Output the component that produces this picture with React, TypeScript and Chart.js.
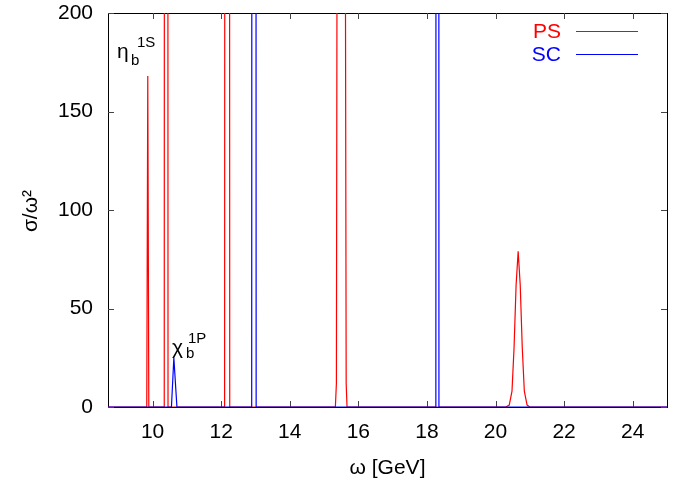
import React, { useEffect, useRef } from "react";
import { Chart, registerables } from "chart.js";

Chart.register(...registerables);

// PS (pseudoscalar) channel: omega [GeV] and sigma/omega^2
const psX = [8.7, 9.83, 9.86, 9.89, 10.34, 10.395, 10.45, 12.1, 12.175, 12.25, 15.33, 15.36, 15.38, 15.5, 15.62, 15.645, 15.67, 20.3, 20.4, 20.48, 20.54, 20.6, 20.66, 20.72, 20.78, 20.84, 20.92, 21.0, 25];
const psY = [0, 0, 168, 0, 0, 4000, 0, 0, 4000, 0, 0, 12, 250, 3000, 250, 12, 0, 0, 1, 8, 30, 62, 79, 62, 30, 8, 1, 0, 0];

// SC (scalar) channel
const scX = [8.7, 10.55, 10.62, 10.71, 12.89, 12.955, 13.02, 18.26, 18.305, 18.35, 25];
const scY = [0, 0, 25, 0, 0, 4000, 0, 0, 4000, 0, 0];

const xTickValues = [10, 12, 14, 16, 18, 20, 22, 24];
const yTickValues = [0, 50, 100, 150, 200];
const legendLabels = ["PS", "SC"];
const seriesColors = ["#ff0000", "#0000ff"];

const FONT = "'Liberation Sans', Arial, Helvetica, sans-serif";

export default function App() {
  const ref = useRef<HTMLCanvasElement | null>(null);

  useEffect(() => {
    if (!ref.current) return;
    const overlay = {
      id: "overlay",
      beforeDatasetsDraw(chart: any) {
        const ctx = chart.ctx;
        const a = chart.chartArea;
        const xs = chart.scales.x;
        const ys = chart.scales.y;
        ctx.save();
        ctx.strokeStyle = "#000";
        ctx.lineWidth = 1;
        ctx.strokeRect(Math.round(a.left) + 0.5, Math.round(a.top) + 0.5, Math.round(a.right - a.left), Math.round(a.bottom - a.top));
        ctx.strokeStyle = "#444";
        ctx.beginPath();
        const tl = 6;
        xTickValues.forEach((v) => {
          const px = Math.round(xs.getPixelForValue(v)) + 0.5;
          ctx.moveTo(px, a.bottom);
          ctx.lineTo(px, a.bottom - tl);
          ctx.moveTo(px, a.top);
          ctx.lineTo(px, a.top + tl);
        });
        yTickValues.forEach((v) => {
          const py = Math.round(ys.getPixelForValue(v)) + 0.5;
          ctx.moveTo(a.left, py);
          ctx.lineTo(a.left + tl, py);
          ctx.moveTo(a.right, py);
          ctx.lineTo(a.right - tl, py);
        });
        ctx.stroke();
        ctx.restore();
      },
      afterDraw(chart: any) {
        const ctx = chart.ctx;
        const a = chart.chartArea;
        ctx.save();
        ctx.fillStyle = "#000";
        // axis titles
        ctx.font = `21px ${FONT}`;
        ctx.textAlign = "center";
        ctx.textBaseline = "middle";
        ctx.fillText("ω [GeV]", (a.left + a.right) / 2, 468);
        ctx.save();
        ctx.translate(31, 211);
        ctx.rotate(-Math.PI / 2);
        ctx.fillText("σ/ω²", 0, 0);
        ctx.restore();

        // annotations
        ctx.textAlign = "left";
        ctx.textBaseline = "alphabetic";
        ctx.font = `21px ${FONT}`;
        ctx.fillText("η", 117, 58);
        ctx.font = `15px ${FONT}`;
        ctx.fillText("b", 131, 65);
        ctx.fillText("1S", 137, 47);

        ctx.font = `21px ${FONT}`;
        ctx.fillText("χ", 172, 354);
        ctx.font = `15px ${FONT}`;
        ctx.fillText("b", 186, 358);
        ctx.fillText("1P", 188, 343);

        // legend
        ctx.font = `21px ${FONT}`;
        ctx.textAlign = "right";
        ctx.textBaseline = "middle";
        legendLabels.forEach((lab, i) => {
          const y = 31 + i * 23;
          ctx.fillStyle = seriesColors[i];
          ctx.fillText(lab, 561, y + 1);
          ctx.strokeStyle = seriesColors[i];
          ctx.lineWidth = 1;
          ctx.beginPath();
          ctx.moveTo(576, y + 0.5);
          ctx.lineTo(638, y + 0.5);
          ctx.stroke();
        });
        ctx.restore();
      },
    };

    const chart = new Chart(ref.current, {
      type: "scatter",
      data: {
        datasets: [
          {
            label: legendLabels[0],
            data: psX.map((x, i) => ({ x, y: psY[i] })),
            showLine: true,
            borderColor: seriesColors[0],
            borderWidth: 1.2,
            pointRadius: 0,
            order: 1,
          },
          {
            label: legendLabels[1],
            data: scX.map((x, i) => ({ x, y: scY[i] })),
            showLine: true,
            borderColor: seriesColors[1],
            borderWidth: 1.2,
            pointRadius: 0,
            order: 0,
          },
        ],
      },
      options: {
        animation: false,
        responsive: false,
        events: [],
        layout: { padding: { top: 13, right: 13, left: 0, bottom: 0 } },
        plugins: { legend: { display: false }, tooltip: { enabled: false } },
        scales: {
          x: {
            type: "linear",
            min: 8.7,
            max: 25,
            grid: { display: false, drawTicks: false },
            border: { display: false },
            afterFit: (s: any) => {
              s.height = 76;
              s.paddingLeft = 0;
              s.paddingRight = 0;
            },
            afterBuildTicks: (s: any) => {
              s.ticks = xTickValues.map((v) => ({ value: v }));
            },
            ticks: {
              padding: 13,
              color: "#000",
              font: { family: FONT, size: 21 },
              maxRotation: 0,
            },
          },
          y: {
            type: "linear",
            min: 0,
            max: 200,
            grid: { display: false, drawTicks: false },
            border: { display: false },
            afterFit: (s: any) => {
              s.width = 108;
              s.paddingTop = 0;
              s.paddingBottom = 0;
            },
            afterBuildTicks: (s: any) => {
              s.ticks = yTickValues.map((v) => ({ value: v }));
            },
            ticks: {
              padding: 15,
              color: "#000",
              font: { family: FONT, size: 21 },
            },
          },
        },
      },
      plugins: [overlay],
    } as any);
    return () => chart.destroy();
  }, []);

  return (
    <div style={{ position: "absolute", left: 0, top: 0, width: 680, height: 483, background: "#fff" }}>
      <canvas ref={ref} width={680} height={483} style={{ width: 680, height: 483 }} />
    </div>
  );
}
